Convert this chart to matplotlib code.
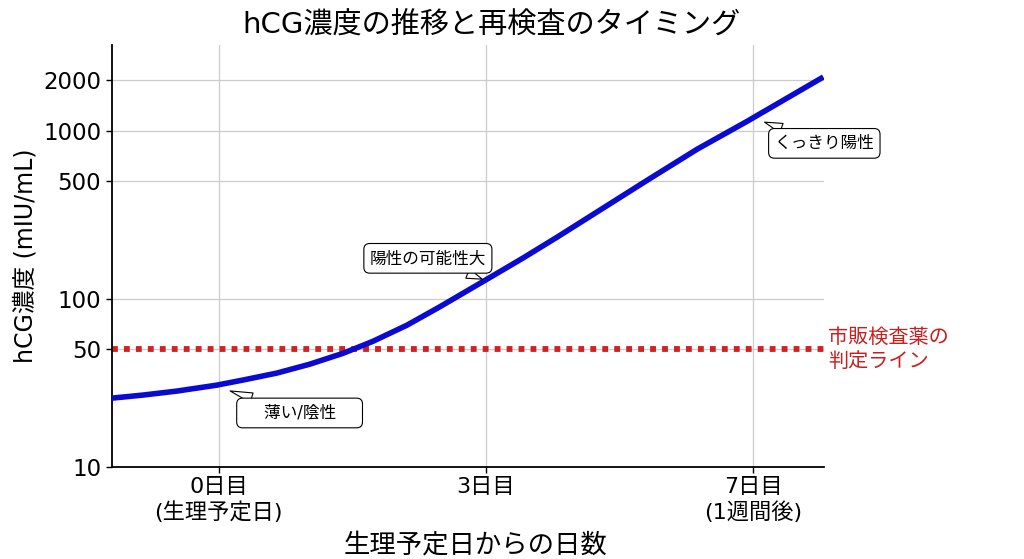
import matplotlib
matplotlib.use("Agg")
import matplotlib.pyplot as plt
from matplotlib.ticker import FixedLocator, NullLocator, FixedFormatter

plt.rcParams['font.family'] = ['DejaVu Sans', 'Noto Sans CJK JP']

# curve (x = position on the day axis)
x_pos = [-1.2, -0.852, -0.470, -0.020, 0.272, 0.654, 1.025, 1.396, 1.733, 2.115,
         2.485, 3.002, 3.418, 3.800, 4.171, 4.811, 5.373, 5.935, 6.789]
hcg = [25.6, 26.7, 28.2, 30.6, 32.8, 36.1, 40.8, 47.3, 55.8, 69.6,
       89.6, 129.6, 174.7, 232.5, 309.4, 506.8, 776.6, 1139, 2088]

tick_pos = [0, 3, 6]
tick_labels = ["0日目\n(生理予定日)", "3日目", "7日目\n(1週間後)"]
y_ticks = [10, 50, 100, 500, 1000, 2000]
cutoff = 50

notes = [
    ("    薄い/陰性    ", (0.10, 28.6), (0.91, 20.9)),
    ("陽性の可能性大", (2.99, 129), (2.35, 174)),
    ("くっきり陽性", (6.10, 1139), (6.80, 841)),
]

fig = plt.figure(figsize=(10.24, 5.59), dpi=100)
ax = fig.add_axes([0.109, 0.165, 0.696, 0.755])

ax.plot(x_pos, hcg, color='#0a0ad2', lw=4, solid_capstyle='butt',
        solid_joinstyle='round', zorder=3)
ax.axhline(cutoff, color='#d42020', lw=4.2, linestyle=(0, (1, 1.05)), zorder=2)

ax.set_yscale('log')
ax.set_ylim(10, 3250)
ax.set_xlim(-1.2, 6.8)
ax.yaxis.set_major_locator(FixedLocator(y_ticks))
ax.yaxis.set_major_formatter(FixedFormatter([str(v) for v in y_ticks]))
ax.yaxis.set_minor_locator(NullLocator())
ax.set_xticks(tick_pos)
ax.set_xticklabels(tick_labels, fontsize=16, linespacing=1.25)
ax.tick_params(axis='y', labelsize=16.5)
ax.tick_params(length=4, width=1)

ax.grid(True, color='#cccccc', lw=0.9)
ax.set_axisbelow(True)
for s in ['top', 'right']:
    ax.spines[s].set_visible(False)
for s in ['left', 'bottom']:
    ax.spines[s].set_linewidth(1.3)

ax.set_ylabel("hCG濃度 (mIU/mL)", fontsize=17)
ax.set_xlabel("生理予定日からの日数", fontsize=19, labelpad=3)
ax.xaxis.set_label_coords(0.51, -0.155)
fig.text(0.48, 0.955, "hCG濃度の推移と再検査のタイミング", fontsize=21,
         ha='center', va='center')

ax.text(1.005, cutoff, "市販検査薬の\n判定ライン", color='#c81e1e', fontsize=14.5,
        va='center', ha='left', transform=ax.get_yaxis_transform(),
        linespacing=1.35)

for txt, pt, txy in notes:
    ax.annotate(txt, xy=pt, xytext=txy, fontsize=12, ha='center', va='center',
                bbox=dict(boxstyle='round,pad=0.35', fc='white', ec='black', lw=0.8),
                arrowprops=dict(arrowstyle='wedge,tail_width=0.6', fc='white',
                                ec='black', lw=0.8, shrinkA=0, shrinkB=2),
                annotation_clip=False, zorder=5)

fig.savefig("out.png", dpi=100)
